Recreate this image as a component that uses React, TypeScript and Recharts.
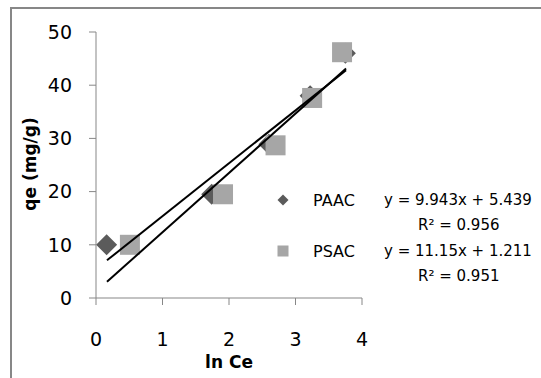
import { ScatterChart, Scatter, XAxis, YAxis, Legend } from "recharts";

const paacX = [0.16, 1.74, 2.6, 3.22, 3.75];
const paacY = [10, 19.5, 28.9, 38, 46];
const psacX = [0.51, 1.91, 2.7, 3.25, 3.7];
const psacY = [10, 19.5, 28.7, 37.6, 46.2];

const seriesNames = ["PAAC", "PSAC"];
const slopes = [9.943, 11.15];
const intercepts = [5.439, 1.211];
const r2 = ["0.956", "0.951"];
const trendRange = [0.165, 3.76];

const xTicks = [0, 1, 2, 3, 4];
const yTicks = [0, 10, 20, 30, 40, 50];

const paacData = paacX.map((x, i) => ({ x, y: paacY[i] }));
const psacData = psacX.map((x, i) => ({ x, y: psacY[i] }));
const trendData = slopes.map((m, i) => trendRange.map((x) => ({ x, y: m * x + intercepts[i] })));

const FONT = "'DejaVu Sans', sans-serif";
const AXIS = "#878787";
const DARK = "#5B5B5B";
const LIGHT = "#A6A6A6";

const Diamond = (props: any) => {
  const { cx, cy } = props;
  const r = 10.5;
  return <path d={`M${cx},${cy - r}L${cx + r},${cy}L${cx},${cy + r}L${cx - r},${cy}Z`} fill={DARK} />;
};

const Square = (props: any) => {
  const { cx, cy } = props;
  return <rect x={cx - 10} y={cy - 10} width={20} height={20} fill={LIGHT} />;
};

const NoDot = () => <g />;

const LegendBox = () => (
  <div style={{ position: "relative", width: 541, height: 378, fontFamily: FONT, fontSize: 15, color: "#000" }}>
    {seriesNames.map((name, i) => {
      const top = 191 + i * 51;
      return (
        <div key={name}>
          <svg style={{ position: "absolute", left: 276, top: top + 2 }} width={14} height={14}>
            {i === 0 ? (
              <path d="M7,1.5L12.5,7L7,12.5L1.5,7Z" fill={DARK} />
            ) : (
              <rect x={1.5} y={1.5} width={11} height={11} fill={LIGHT} />
            )}
          </svg>
          <span style={{ position: "absolute", left: 313, top, whiteSpace: "nowrap", fontSize: 16 }}>{name}</span>
          <span style={{ position: "absolute", left: 384, top, whiteSpace: "nowrap" }}>
            y = {slopes[i]}x + {intercepts[i]}
          </span>
          <span style={{ position: "absolute", left: 418, top: top + 25, whiteSpace: "nowrap" }}>
            R² = {r2[i]}
          </span>
        </div>
      );
    })}
  </div>
);

export default function App() {
  return (
    <div style={{ position: "absolute", left: 0, top: 0, width: 541, height: 378, overflow: "hidden", background: "#fff" }}>
      <div
        style={{
          position: "absolute",
          left: 10,
          top: 7,
          width: 600,
          height: 420,
          border: `2px solid ${AXIS}`,
        }}
      />
      <ScatterChart
        width={541}
        height={378}
        margin={{ top: 32, right: 179, bottom: 30, left: 36 }}
        style={{ position: "absolute", left: 0, top: 0 }}
      >
        <XAxis
          type="number"
          dataKey="x"
          domain={[0, 4]}
          ticks={xTicks}
          height={50}
          tickSize={7}
          tickMargin={28}
          stroke={AXIS}
          tick={{ fill: "#000", fontSize: 19, fontFamily: FONT }}
          label={{
            content: () => (
              <text x={229} y={368} textAnchor="middle" fontFamily={FONT} fontSize={17} fontWeight="bold" fill="#000">
                ln Ce
              </text>
            ),
          }}
        />
        <YAxis
          type="number"
          dataKey="y"
          domain={[0, 50]}
          ticks={yTicks}
          width={60}
          tickSize={7}
          tickMargin={17}
          stroke={AXIS}
          tick={{ fill: "#000", fontSize: 19, fontFamily: FONT }}
          label={{
            content: () => (
              <text
                x={36}
                y={164}
                transform="rotate(-90 36 164)"
                textAnchor="middle"
                fontFamily={FONT}
                fontSize={17}
                fontWeight="bold"
                fill="#000"
              >
                qe (mg/g)
              </text>
            ),
          }}
        />
        <Legend
          layout="vertical"
          align="center"
          verticalAlign="middle"
          wrapperStyle={{ left: 0, top: 0, width: 541, height: 378 }}
          content={() => <LegendBox />}
        />
        <Scatter name="PAAC" data={paacData} shape={<Diamond />} isAnimationActive={false} />
        <Scatter name="PSAC" data={psacData} shape={<Square />} isAnimationActive={false} />
        {trendData.map((d, i) => (
          <Scatter
            key={i}
            data={d}
            line={{ stroke: "#000", strokeWidth: 2 }}
            shape={<NoDot />}
            legendType="none"
            isAnimationActive={false}
          />
        ))}
      </ScatterChart>
    </div>
  );
}
